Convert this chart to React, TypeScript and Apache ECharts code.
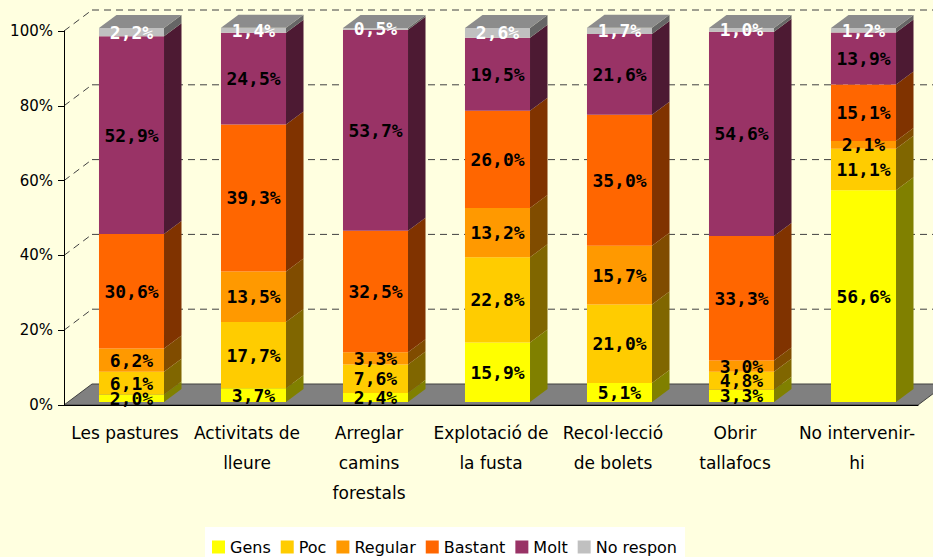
import React, { useEffect, useRef } from 'react';
import * as echarts from 'echarts';

const categories = [
  'Les pastures',
  'Activitats de\nlleure',
  'Arreglar\ncamins\nforestals',
  'Explotació de\nla fusta',
  'Recol·lecció\nde bolets',
  'Obrir\ntallafocs',
  'No intervenir-\nhi',
];
const seriesNames = ['Gens', 'Poc', 'Regular', 'Bastant', 'Molt', 'No respon'];
const gens = [2.0, 3.7, 2.4, 15.9, 5.1, 3.3, 56.6];
const poc = [6.1, 17.7, 7.6, 22.8, 21.0, 4.8, 11.1];
const regular = [6.2, 13.5, 3.3, 13.2, 15.7, 3.0, 2.1];
const bastant = [30.6, 39.3, 32.5, 26.0, 35.0, 33.3, 15.1];
const molt = [52.9, 24.5, 53.7, 19.5, 21.6, 54.6, 13.9];
const noRespon = [2.2, 1.4, 0.5, 2.6, 1.7, 1.0, 1.2];
const yTicks = [0, 20, 40, 60, 80, 100];

const frontColors = ['#FFFF00', '#FFCC00', '#FF9900', '#FF6600', '#993366', '#C0C0C0'];
const sideColors = ['#808000', '#806600', '#804C00', '#803300', '#4D1A33', '#666666'];
const topColor = '#8C8C8C';
const labelColors = ['#000', '#000', '#000', '#000', '#000', '#FFFFFF'];

const WALL_DX = 28;
const WALL_DY = -21;
const BAR_DX = 17.5;
const BAR_DY = -13;
const BAR_SHIFT_X = 6.5;
const BAR_SHIFT_Y = -3;
const BAR_RATIO = 0.533;

const fmt = (v: number) => v.toFixed(1).replace('.', ',') + '%';

export default function App() {
  const ref = useRef<HTMLDivElement>(null);
  useEffect(() => {
    if (!ref.current) return;
    const chart = echarts.init(ref.current, undefined, { renderer: 'svg' });
    const all = [gens, poc, regular, bastant, molt, noRespon];
    const bases: number[][] = [];
    const run = categories.map(() => 0);
    all.forEach((arr, si) => {
      bases[si] = arr.map((v, ci) => {
        const b = run[ci];
        run[ci] += v;
        return b;
      });
    });
    const lastIndex = all.length - 1;

    const segSeries = all.map((arr, si) => ({
      type: 'custom',
      name: seriesNames[si],
      itemStyle: { color: frontColors[si] },
      encode: { x: 0, y: 1 },
      data: arr.map((v, ci) => [ci, bases[si][ci], v]),
      renderItem: (params: any, api: any) => {
        const ci = api.value(0);
        const base = api.value(1);
        const val = api.value(2);
        const p0 = api.coord([ci, base]);
        const p1 = api.coord([ci, base + val]);
        const band = api.size([1, 0])[0];
        const bw = band * BAR_RATIO;
        const x = p0[0] - bw / 2 + BAR_SHIFT_X;
        const yBot = p0[1] + BAR_SHIFT_Y;
        const yTop = p1[1] + BAR_SHIFT_Y;
        const children: any[] = [
          {
            type: 'rect',
            shape: { x, y: yTop, width: bw, height: yBot - yTop },
            style: { fill: frontColors[si] },
          },
          {
            type: 'polygon',
            shape: {
              points: [
                [x + bw, yTop],
                [x + bw + BAR_DX, yTop + BAR_DY],
                [x + bw + BAR_DX, yBot + BAR_DY],
                [x + bw, yBot],
              ],
            },
            style: { fill: sideColors[si] },
          },
        ];
        if (si === lastIndex) {
          children.push({
            type: 'polygon',
            shape: {
              points: [
                [x, yTop],
                [x + BAR_DX, yTop + BAR_DY],
                [x + bw + BAR_DX, yTop + BAR_DY],
                [x + bw, yTop],
              ],
            },
            style: { fill: topColor },
          });
        }
        children.push({
          type: 'text',
          z2: 100,
          style: {
            text: fmt(val),
            x: x + bw / 2,
            y: (yTop + yBot) / 2,
            fill: labelColors[si],
            font: 'bold 18px "DejaVu Sans Mono"',
            align: 'center',
            verticalAlign: 'middle',
          },
        });
        return { type: 'group', children };
      },
    }));

    const frameSeries = {
      type: 'custom',
      name: 'frame',
      silent: true,
      z: 1,
      encode: { x: 0, y: 1 },
      data: [[0, 0]],
      renderItem: (params: any, api: any) => {
        const cs = params.coordSys;
        const x0 = cs.x;
        const w = cs.width;
        const y0 = api.coord([0, 0])[1];
        const children: any[] = [
          {
            type: 'polygon',
            shape: {
              points: [
                [x0, y0],
                [x0 + WALL_DX, y0 + WALL_DY],
                [x0 + w + WALL_DX, y0 + WALL_DY],
                [x0 + w, y0],
              ],
            },
            style: { fill: '#808080', stroke: '#404040', lineWidth: 1 },
          },
        ];
        yTicks.forEach((v) => {
          if (v === 0) return;
          const y = api.coord([0, v])[1];
          const lineStyle = { stroke: '#404040', lineWidth: 1, lineDash: [7, 5] };
          children.push({
            type: 'line',
            shape: { x1: x0, y1: y, x2: x0 + WALL_DX, y2: y + WALL_DY },
            style: lineStyle,
          });
          children.push({
            type: 'line',
            shape: { x1: x0 + WALL_DX, y1: y + WALL_DY, x2: x0 + w + WALL_DX, y2: y + WALL_DY },
            style: lineStyle,
          });
        });
        return { type: 'group', children };
      },
    };

    chart.setOption({
      animation: false,
      backgroundColor: '#FFFFE0',
      grid: { left: 64, right: 15, top: 31, bottom: 152 },
      legend: {
        data: seriesNames,
        left: 205,
        top: 527,
        backgroundColor: '#FFFFFF',
        padding: [12, 8, 12, 7],
        itemGap: 10,
        itemWidth: 13,
        itemHeight: 13,
        icon: 'rect',
        textStyle: { color: '#000', fontFamily: 'DejaVu Sans', fontSize: 16 },
      },
      xAxis: {
        type: 'category',
        data: categories,
        boundaryGap: true,
        z: 10,
        axisLine: { lineStyle: { color: '#000', width: 1 } },
        axisTick: { length: 7, lineStyle: { color: '#000' } },
        axisLabel: {
          color: '#000',
          fontFamily: 'DejaVu Sans',
          fontSize: 17,
          lineHeight: 30,
          margin: 13,
          interval: 0,
        },
        splitLine: { show: false },
      },
      yAxis: {
        type: 'value',
        min: 0,
        max: 100,
        interval: 20,
        z: 10,
        axisLine: { show: true, lineStyle: { color: '#000', width: 1 } },
        axisTick: { show: true, length: 6, lineStyle: { color: '#000' } },
        axisLabel: {
          formatter: '{value}%',
          color: '#000',
          fontFamily: 'DejaVu Sans',
          fontSize: 15,
          margin: 11,
        },
        splitLine: { show: false },
      },
      series: [frameSeries, ...segSeries],
    });
    return () => chart.dispose();
  }, []);
  return (
    <div
      ref={ref}
      style={{ position: 'fixed', left: 0, top: 0, width: 933, height: 557 }}
    />
  );
}
